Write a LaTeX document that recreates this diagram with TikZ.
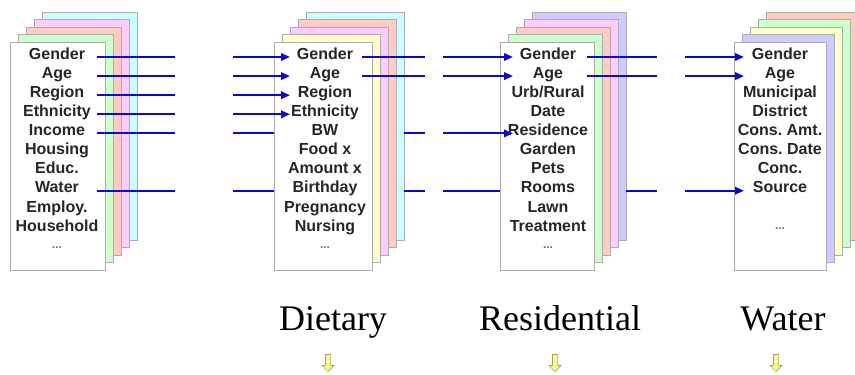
\documentclass[tikz,border=0pt]{standalone}
\usepackage{fontspec}
\setmainfont{Liberation Serif}
\newfontfamily\cardfont{Liberation Sans}
\usetikzlibrary{arrows.meta}
\frenchspacing

\definecolor{cgreen}{HTML}{CCFFCC}
\definecolor{cpeach}{HTML}{FFCCC4}
\definecolor{cpink}{HTML}{FFCCFF}
\definecolor{ccyan}{HTML}{CCFFFF}
\definecolor{cyellow}{HTML}{FFFFCC}
\definecolor{clavender}{HTML}{CCCCFF}
\definecolor{linkblue}{HTML}{0A0ACC}
\definecolor{arrowfill}{HTML}{FFFF8C}
\definecolor{arrowedge}{HTML}{A0A070}

\tikzset{
  card/.style={rectangle, draw=gray!65, line width=0.9pt, minimum height=228pt, inner sep=0pt},
  rowtext/.style={font=\cardfont\bfseries\fontsize{16}{16}\selectfont, text=black!85, inner sep=0pt, anchor=mid},
  moredots/.style={font=\cardfont\bfseries\fontsize{12}{12}\selectfont, text=black!55, inner sep=0pt},
  bluelink/.style={draw=linkblue, line width=2pt},
  linkarrow/.style={bluelink, -{Triangle[length=9pt,width=7.5pt]}},
  stagelabel/.style={font=\fontsize{36}{36}\selectfont, inner sep=0pt, anchor=base},
  downarrow/.style={draw=arrowedge, fill=arrowfill, line width=0.7pt, line join=round}
}

% a stack of record cards: name, left edge, width, colours of the cards behind the front one (front to back)
\newcommand\cardstack[7]{%
  \foreach \col [count=\i] in {#7,#6,#5,#4}{%
    \pgfmathtruncatemacro\depth{5-\i}%
    \node[card, fill=\col, minimum width=#3pt] (#1-c\depth) at ({#2+#3/2+8*\depth},{156-7.5*\depth}) {};
  }%
  \node[card, fill=white, minimum width=#3pt] (#1-c0) at ({#2+#3/2},156) {};
}

% a small block arrow pointing down, centred on the given coordinate
\newcommand\blockdown[1]{%
  \draw[downarrow] (#1) ++(-2.6,-8.5) -- ++(5.2,0) -- ++(0,11) -- ++(3.4,0)
    -- ++(-6,6) -- ++(-6,-6) -- ++(3.4,0) -- cycle;
}

\begin{document}
\begin{tikzpicture}[x=1pt,y=-1pt]
\useasboundingbox (0,0) rectangle (855,375);

% card stacks
\cardstack{s1}{10}{95}{cgreen}{cpeach}{cpink}{ccyan}
\cardstack{s2}{274}{98}{cyellow}{cpink}{cpeach}{ccyan}
\cardstack{s3}{500}{94}{cgreen}{cpeach}{cpink}{clavender}
\cardstack{s4}{734}{92}{clavender}{cyellow}{cgreen}{cpeach}

% fields of each record
\foreach \t [count=\k] in {Gender,Age,Region,Ethnicity,Income,Housing,Educ.,Water,Employ.,Household}
  \node[rowtext] (s1-\k) at (57,{57+19.1*(\k-1)}) {\t};
\node[moredots] (s1-more) at (57,248) {...};

\foreach \t [count=\k] in {Gender,Age,Region,Ethnicity,BW,Food x,Amount x,Birthday,Pregnancy,Nursing}
  \node[rowtext] (s2-\k) at (325,{57+19.1*(\k-1)}) {\t};
\node[moredots] (s2-more) at (325,248) {...};

\foreach \t [count=\k] in {Gender,Age,Urb/Rural,Date,Residence,Garden,Pets,Rooms,Lawn,Treatment}
  \node[rowtext] (s3-\k) at (548,{57+19.1*(\k-1)}) {\t};
\node[moredots] (s3-more) at (548,248) {...};

\foreach \t [count=\k] in {Gender,Age,Municipal,District,Cons. Amt.,Cons. Date,Conc.,Source}
  \node[rowtext] (s4-\k) at (780,{57+19.1*(\k-1)}) {\t};
\node[moredots] (s4-more) at (780,229) {...};

% x positions where the links start, break and end
\coordinate (out1) at (97,0);
\coordinate (gapAl) at (175,0);
\coordinate (gapAr) at (233,0);
\coordinate (in2) at (290,0);
\coordinate (out2) at (362,0);
\coordinate (gapBl) at (425,0);
\coordinate (gapBr) at (443,0);
\coordinate (in3) at (513,0);
\coordinate (out3) at (587,0);
\coordinate (gapCl) at (657,0);
\coordinate (gapCr) at (685,0);
\coordinate (in4) at (744,0);

% links from the first stack to the dietary stack
\foreach \k in {1,...,4}{
  \draw[bluelink] (out1 |- s1-\k.mid) -- (gapAl |- s1-\k.mid);
  \draw[linkarrow] (gapAr |- s1-\k.mid) -- (in2 |- s2-\k.mid);
}

% income passes behind the dietary stack to residence
\draw[bluelink] (out1 |- s1-5.mid) -- (gapAl |- s1-5.mid);
\draw[bluelink] (gapAr |- s1-5.mid) -- (s2-c0.west |- s2-5.mid);
\draw[bluelink] (s2-c4.east |- s2-5.mid) -- (gapBl |- s2-5.mid);
\draw[linkarrow] (gapBr |- s2-5.mid) -- (in3 |- s3-5.mid);

% water passes behind two stacks to source
\draw[bluelink] (out1 |- s1-8.mid) -- (gapAl |- s1-8.mid);
\draw[bluelink] (gapAr |- s1-8.mid) -- (s2-c0.west |- s2-8.mid);
\draw[bluelink] (s2-c4.east |- s2-8.mid) -- (gapBl |- s2-8.mid);
\draw[bluelink] (gapBr |- s2-8.mid) -- (s3-c0.west |- s3-8.mid);
\draw[bluelink] (s3-c4.east |- s3-8.mid) -- (gapCl |- s3-8.mid);
\draw[linkarrow] (gapCr |- s3-8.mid) -- (in4 |- s4-8.mid);

% gender and age carried on
\foreach \k in {1,2}{
  \draw[bluelink] (out2 |- s2-\k.mid) -- (gapBl |- s2-\k.mid);
  \draw[linkarrow] (gapBr |- s2-\k.mid) -- (in3 |- s3-\k.mid);
  \draw[bluelink] (out3 |- s3-\k.mid) -- (gapCl |- s3-\k.mid);
  \draw[linkarrow] (gapCr |- s3-\k.mid) -- (in4 |- s4-\k.mid);
}

% stage names with their arrows
\node[stagelabel] (dietary) at (333,330) {Dietary};
\node[stagelabel] (residential) at (560,330) {Residential};
\node[stagelabel] (water) at (783,330) {Water};
\coordinate (dietary-next) at (328,363);
\coordinate (residential-next) at (555,363);
\coordinate (water-next) at (776,363);
\blockdown{dietary-next}
\blockdown{residential-next}
\blockdown{water-next}
\end{tikzpicture}
\end{document}
